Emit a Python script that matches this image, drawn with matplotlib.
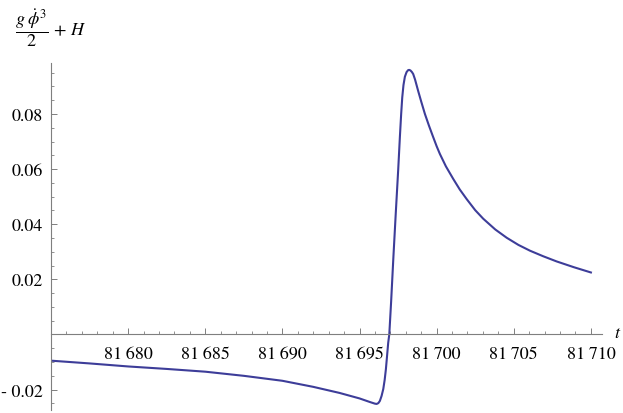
import matplotlib.pyplot as plt
from matplotlib.ticker import MultipleLocator, FixedLocator

plt.rcParams['mathtext.fontset'] = 'stix'
plt.rcParams['font.family'] = ['STIXGeneral', 'Liberation Serif', 'DejaVu Serif']

# curve values
t_vals = [81675.0, 81677.5, 81680.0, 81682.5, 81685.0, 81687.5, 81690.0,
          81692.0, 81693.7, 81695.0, 81695.67, 81696.0, 81696.11, 81696.22,
          81696.32, 81696.43, 81696.54, 81696.63, 81696.71, 81696.79,
          81696.86, 81696.93, 81697.05, 81697.19, 81697.35, 81697.51,
          81697.62, 81697.70, 81697.77, 81697.85, 81697.94, 81698.05,
          81698.15, 81698.22, 81698.3, 81698.4, 81698.48, 81698.6,
          81698.81, 81699.0, 81699.24, 81699.5, 81699.75, 81700.0,
          81700.21, 81700.6, 81701.08, 81701.5, 81701.95, 81702.5,
          81703.02, 81703.8, 81704.54, 81705.3, 81706.05, 81706.9,
          81707.78, 81708.9, 81710.0]
y_vals = [-0.0095, -0.0105, -0.0116, -0.0125, -0.0135, -0.0150, -0.0168,
          -0.0190, -0.0212, -0.0232, -0.0245, -0.0251, -0.0252, -0.0249,
          -0.0241, -0.0223, -0.0198, -0.0165, -0.0126, -0.0075,
          -0.0030, 0.0, 0.0120, 0.0274, 0.0440, 0.0600,
          0.0720, 0.0800, 0.0860, 0.0905, 0.0935, 0.0952,
          0.0959, 0.0960, 0.0958, 0.0952, 0.0945, 0.0925,
          0.0882, 0.0845, 0.0800, 0.0758, 0.0720, 0.0683,
          0.0655, 0.0610, 0.0564, 0.0526, 0.0491, 0.0451,
          0.0420, 0.0381, 0.0351, 0.0325, 0.0304, 0.0284,
          0.0265, 0.0244, 0.0225]

x_ticks = [81680, 81685, 81690, 81695, 81700, 81705, 81710]
x_labels = ['81\u2009680', '81\u2009685', '81\u2009690', '81\u2009695',
            '81\u2009700', '81\u2009705', '81\u2009710']
y_ticks = [-0.02, 0.02, 0.04, 0.06, 0.08]
y_labels = ['- 0.02', '0.02', '0.04', '0.06', '0.08']

W, H = 623, 414
fig = plt.figure(figsize=(W / 100, H / 100), dpi=100)
ax = fig.add_axes([51 / W, 3 / H, (601.7 - 51) / W, (411 - 64) / H])

ax.plot(t_vals, y_vals, color='#3d3d99', lw=1.5)

ax.set_xlim(81675, 81710.7)
ax.set_ylim(-0.0274, 0.0985)

axis_col = '#7f7f7f'
for s in ['top', 'right']:
    ax.spines[s].set_visible(False)
ax.spines['left'].set_position(('data', 81675))
ax.spines['bottom'].set_position(('data', 0))
for s in ['left', 'bottom']:
    ax.spines[s].set_color(axis_col)
    ax.spines[s].set_linewidth(0.8)

ax.xaxis.set_major_locator(FixedLocator(x_ticks))
ax.set_xticklabels(x_labels)
ax.xaxis.set_minor_locator(MultipleLocator(1))
ax.yaxis.set_major_locator(FixedLocator(y_ticks))
ax.set_yticklabels(y_labels)
ax.yaxis.set_minor_locator(MultipleLocator(0.005))

ax.tick_params(axis='x', which='major', direction='in', length=4.5, width=0.7,
               color=axis_col, labelsize=13, pad=8)
ax.tick_params(axis='x', which='minor', direction='in', length=2.5, width=0.6,
               color=axis_col)
ax.tick_params(axis='y', which='major', direction='in', length=4.5, width=0.7,
               color=axis_col, labelsize=13, pad=6)
ax.tick_params(axis='y', which='minor', direction='in', length=2.5, width=0.6,
               color=axis_col)

fig.text(618 / W, 1 - 334 / H, r'$t$', fontsize=13, ha='center', va='center')
fig.text(15 / W, 1 - 28 / H, r'$\dfrac{g\;\dot{\phi}^3}{2}\,+\,H$', fontsize=13,
         ha='left', va='center')

fig.savefig('out.png', dpi=100)
